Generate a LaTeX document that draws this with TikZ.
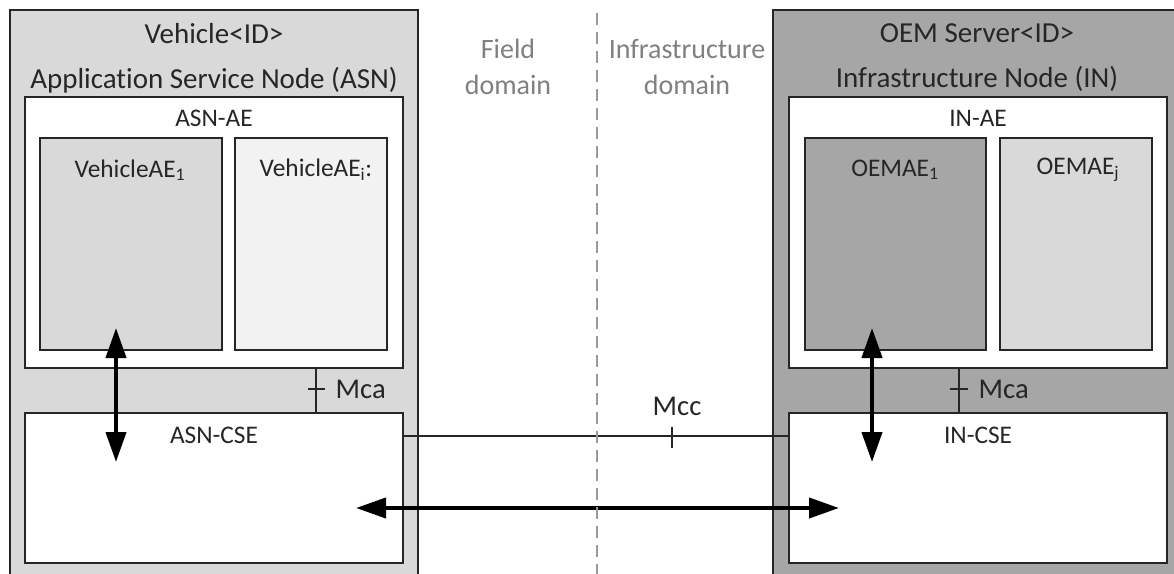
\documentclass[tikz,border=0pt]{standalone}
\usepackage{fontspec}
\setmainfont{Carlito}[Ligatures={NoCommon}]
\usetikzlibrary{fit,arrows.meta}
\definecolor{gA}{HTML}{D9D9D9}
\definecolor{gB}{HTML}{A6A6A6}
\definecolor{gC}{HTML}{F2F2F2}
\definecolor{domtxt}{HTML}{808080}
\definecolor{dashgray}{HTML}{999999}
\tikzset{
  box/.style={draw=black!85, line width=1.1pt, inner sep=0pt},
  ttl/.style={font=\fontsize{21.75}{33.75}\selectfont, align=center, text=black!85},
  lbl/.style={font=\fontsize{19}{23}\selectfont, text=black!85},
  iface/.style={font=\fontsize{21.5}{26}\selectfont, text=black!85},
  dom/.style={font=\fontsize{21}{27}\selectfont, align=center, text=domtxt},
  thin/.style={draw=black!85, line width=1.1pt},
  dbl/.style={line width=3pt, {Triangle[length=22.5pt,width=15pt]}-{Triangle[length=22.5pt,width=15pt]}}
}
\begin{document}
\begin{tikzpicture}[x=0.75pt,y=-0.75pt]
\clip (0,0) rectangle (1174,574);
\fill[white] (0,0) rectangle (1174,574);
% outer nodes
\node[box, fill=gA, fit={(10,10) (418,590)}] (asn) {};
\node[box, fill=gB, fit={(773,10) (1185,590)}] (in) {};
\node[ttl] (asnttl) at (214,58) {Vehicle<ID>\\Application Service Node (ASN)};
\node[ttl] (inttl) at (977,58) {OEM Server<ID>\\Infrastructure Node (IN)};
% AE boxes
\node[box, fill=white, fit={(25,97) (403,368)}] (asnae) {};
\node[lbl] (asnaelbl) at (214,118) {ASN-AE};
\node[box, fill=gA, fit={(40,138) (222,350)}] (vae1) {};
\node[box, fill=gC, fit={(235,138) (387,350)}] (vaei) {};
\node[lbl] (vae1lbl) at (130,170) {VehicleAE\textsubscript{1}};
\node[lbl] (vaeilbl) at (316,170) {VehicleAE\textsubscript{i}:};
\node[box, fill=white, fit={(789,97) (1167,368)}] (inae) {};
\node[lbl] (inaelbl) at (978,118) {IN-AE};
\node[box, fill=gB, fit={(805,138) (986,350)}] (oem1) {};
\node[box, fill=gA, fit={(1000,138) (1152,350)}] (oemj) {};
\node[lbl] (oem1lbl) at (895,170) {OEMAE\textsubscript{1}};
\node[lbl] (oemjlbl) at (1078,170) {OEMAE\textsubscript{j}};
% CSE boxes
\node[box, fill=white, fit={(25,413) (403,563)}] (asncse) {};
\node[lbl] (asncselbl) at (214,435) {ASN-CSE};
\node[box, fill=white, fit={(789,413) (1167,563)}] (incse) {};
\node[lbl] (incselbl) at (978,435) {IN-CSE};
% domain divider
\coordinate (divtop) at (597,13);
\coordinate (divbot) at (597,580);
\node[dom] (field) at (508,67) {Field\\domain};
\node[dom] (infra) at (687,67) {Infrastructure\\domain};
% Mca reference points
\coordinate (mcaL) at (316,389);
\coordinate (mcaR) at (959,389);
\draw[thin] (asnae.south -| mcaL) -- (asncse.north -| mcaL);
\draw[thin] ([xshift=-6pt]mcaL) -- ([xshift=6.75pt]mcaL);
\node[iface, anchor=west] (mcaLlbl) at (331,389) {Mca};
\draw[thin] (inae.south -| mcaR) -- (incse.north -| mcaR);
\draw[thin] ([xshift=-6.75pt]mcaR) -- ([xshift=6.75pt]mcaR);
\node[iface, anchor=west] (mcaRlbl) at (974,389) {Mca};
% Mcc
\coordinate (mcc) at (672,436);
\draw[thin] (asncse.east |- mcc) -- (incse.west |- mcc);
\draw[thin] ([yshift=6.75pt]mcc) -- ([yshift=-9pt]mcc);
\node[iface] (mcclbl) at (677,406) {Mcc};
% arrows
\coordinate (vLtop) at (116,328);
\coordinate (vLbot) at (116,462);
\coordinate (vRtop) at (872,328);
\coordinate (vRbot) at (872,462);
\coordinate (hL) at (356,508);
\coordinate (hR) at (839,508);
\draw[dbl] (vLtop) -- (vLbot);
\draw[dbl] (vRtop) -- (vRbot);
\draw[dbl] (hL) -- (hR);
\draw[dashgray, line width=1.5pt, dash pattern=on 9pt off 5.25pt] (divtop) -- (divbot);
\end{tikzpicture}
\end{document}
